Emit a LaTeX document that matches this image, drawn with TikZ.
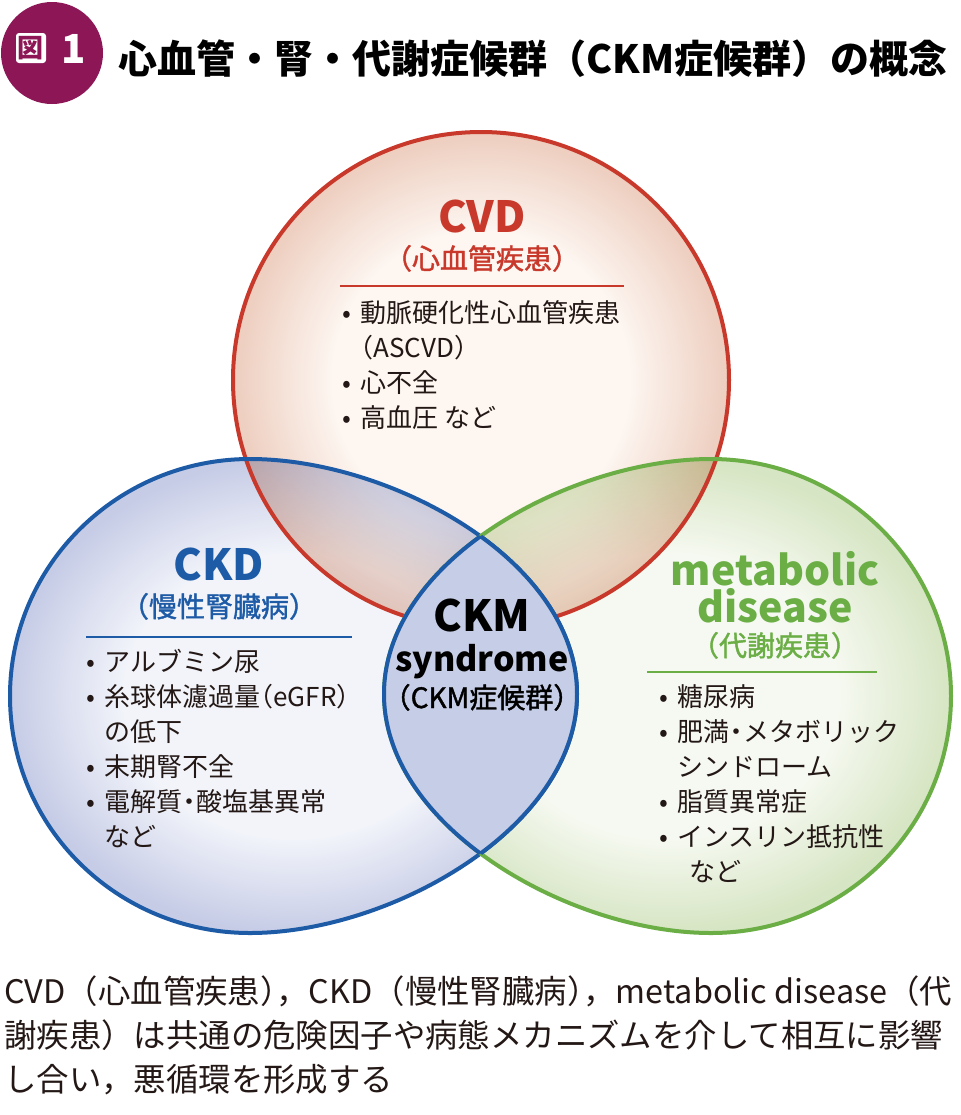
\documentclass[tikz,border=0pt]{standalone}
\usepackage{fontspec}
\setmainfont{Noto Sans CJK JP}
\newfontfamily\subfont{Noto Sans CJK JP}[FakeBold=1.5]
\usetikzlibrary{positioning}

\definecolor{cvdred}{HTML}{C8392B}
\definecolor{ckdblue}{HTML}{1E5BA6}
\definecolor{metgreen}{HTML}{6AAE45}
\definecolor{cvdin}{HTML}{FDF6F1}
\definecolor{cvdout}{HTML}{EDCDBE}
\definecolor{ckdin}{HTML}{F2F4FA}
\definecolor{ckdout}{HTML}{C6CCE6}
\definecolor{metin}{HTML}{F6F9F1}
\definecolor{metout}{HTML}{D6E5C3}
\definecolor{lensfill}{HTML}{C6CDE6}
\definecolor{badge}{HTML}{8C1656}
\definecolor{ink}{HTML}{231815}

\pgfdeclareradialshading{cvdshade}{\pgfpoint{0bp}{0bp}}{color(0bp)=(cvdin); color(15bp)=(cvdin); color(25bp)=(cvdout); color(50bp)=(cvdout)}
\pgfdeclareradialshading{ckdshade}{\pgfpoint{0bp}{0bp}}{color(0bp)=(ckdin); color(15bp)=(ckdin); color(25bp)=(ckdout); color(50bp)=(ckdout)}
\pgfdeclareradialshading{metshade}{\pgfpoint{0bp}{0bp}}{color(0bp)=(metin); color(15bp)=(metin); color(25bp)=(metout); color(50bp)=(metout)}

% outlines of the two lower sets
\newcommand{\ckdpath}{(10,696) .. controls (10,565) and (118,459) .. (250,459) .. controls (390,459) and (577,560) .. (577,694) .. controls (577,828) and (390,933) .. (250,933) .. controls (118,933) and (10,828) .. (10,696) -- cycle}
\newcommand{\metpath}{(951,696) .. controls (951,565) and (843,459) .. (711,459) .. controls (571,459) and (384,560) .. (384,694) .. controls (384,828) and (571,933) .. (711,933) .. controls (843,933) and (951,828) .. (951,696) -- cycle}

\newcommand{\lp}{\makebox[0.5em][r]{（}}
\newcommand{\rp}{\makebox[0.5em][l]{）}}
\newcommand{\nak}{\makebox[0.55em][c]{・}}
\newcommand{\bul}{\makebox[9pt][l]{•}}
\newcommand{\ind}{\hspace*{9pt}}

\begin{document}
\begin{tikzpicture}[x=0.5pt,y=-0.5pt,
  heading/.style={font=\bfseries\fontsize{21.5pt}{24pt}\selectfont,inner sep=0pt,anchor=base},
  subhead/.style={font=\subfont\fontsize{14pt}{16pt}\selectfont,inner sep=0pt,anchor=base},
  itemlist/.style={font=\fontsize{13pt}{17.5pt}\selectfont,align=left,anchor=north west,inner sep=0pt,text=ink},
  rulebar/.style={line width=1.4pt},
  setline/.style={line width=2pt}]
\useasboundingbox (0,0) rectangle (960,1115);

% set areas
\shade[shading=cvdshade] (481,380) circle [radius=248];
\begin{scope}[blend mode=multiply]
\shade[shading=ckdshade] \ckdpath;
\shade[shading=metshade] \metpath;
\end{scope}
\draw[cvdred,setline] (481,380) circle [radius=248];
\draw[ckdblue,setline] \ckdpath;
\draw[metgreen,setline] \metpath;

% CKM overlap
\begin{scope}
\clip \ckdpath;
\fill[lensfill] \metpath;
\draw[ckdblue,setline] \metpath;
\end{scope}
\begin{scope}
\clip \metpath;
\draw[ckdblue,setline] \ckdpath;
\end{scope}

% title
\node[circle,fill=badge,minimum size=51pt,inner sep=0pt] (badge) at (52,53) {};
\node[fill=white,rounded corners=1.5pt,minimum size=15pt,inner sep=0pt] (zubox) at (31,48) {};
\node[text=badge,font=\bfseries\fontsize{13pt}{13pt}\selectfont,inner sep=0pt] (zu) at (zubox.center) {図};
\node[text=white,font=\bfseries\fontsize{20pt}{20pt}\selectfont,inner sep=0pt] (one) at (74,49) {1};
\node[anchor=base west,text=black,font=\bfseries\fontsize{19.5pt}{24pt}\selectfont,inner sep=0pt] (title) at (118,73) {心血管・腎・代謝症候群（CKM症候群）の概念};

% CVD
\node[heading,text=cvdred] (cvd) at (482,232) {CVD};
\node[subhead,text=cvdred] (cvdjp) at (482,269) {\lp 心血管疾患\rp};
\draw[cvdred,rulebar] (340,286) -- (624,286);
\node[itemlist] (cvdlist) at (342,300) {\bul 動脈硬化性心血管疾患\\ \ind\lp ASCVD\rp\\ \bul 心不全\\ \bul 高血圧 など};

% CKD
\node[heading,text=ckdblue] (ckd) at (219,580) {CKD};
\node[subhead,text=ckdblue] (ckdjp) at (219,617) {\lp 慢性腎臓病\rp};
\draw[ckdblue,rulebar] (86,637) -- (352,637);
\node[itemlist] (ckdlist) at (86,649) {\bul アルブミン尿\\ \bul 糸球体濾過量\lp eGFR\rp\\ \ind の低下\\ \bul 末期腎不全\\ \bul 電解質\nak 酸塩基異常\\ \ind など};

% metabolic disease
\node[heading,anchor=north,align=center,font=\bfseries\fontsize{20.5pt}{18.5pt}\selectfont,text=metgreen] (met) at (775,551) {metabolic\\disease};
\node[subhead,text=metgreen] (metjp) at (775,656) {\lp 代謝疾患\rp};
\draw[metgreen,rulebar] (647,672) -- (877,672);
\node[itemlist] (metlist) at (659,684) {\bul 糖尿病\\ \bul 肥満\nak メタボリック\\ \ind シンドローム\\ \bul 脂質異常症\\ \bul インスリン抵抗性\\ \ind\hspace*{6pt}など};

% CKM
\node[heading,text=black] (ckm) at (482,631) {CKM};
\node[heading,text=black,font=\bfseries\fontsize{17pt}{20pt}\selectfont] (syn) at (482,671) {syndrome};
\node[subhead,text=black] (ckmjp) at (482,708) {\lp CKM症候群\rp};

% caption
\node[anchor=north west,align=left,inner sep=0pt,text=ink,font=\fontsize{16.2pt}{22pt}\selectfont] (caption) at (4,975) {CVD（心血管疾患\rp，CKD（慢性腎臓病\rp，metabolic disease（代\\謝疾患）は共通の危険因子や病態メカニズムを介して相互に影響\\し合い，悪循環を形成する};
\end{tikzpicture}
\end{document}
